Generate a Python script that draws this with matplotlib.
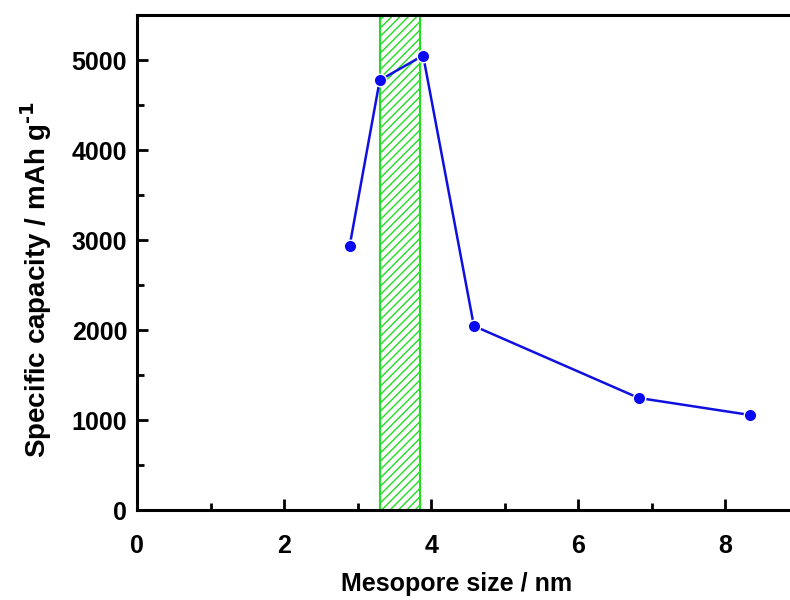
import matplotlib

matplotlib.use("Agg")
import matplotlib.pyplot as plt
from matplotlib.ticker import MultipleLocator
from matplotlib.patches import Rectangle

# data
pore_size = [2.89, 3.30, 3.89, 4.58, 6.82, 8.34]
capacity = [2930, 4775, 5050, 2045, 1245, 1055]
band_x = [3.30, 3.85]

plt.rcParams["font.family"] = ["Liberation Sans", "DejaVu Sans"]
plt.rcParams["font.weight"] = "bold"
plt.rcParams["hatch.color"] = "#22dd22"

fig = plt.figure(figsize=(7.9, 6.0), dpi=100)
# right spine sits past the image edge, like the cropped original
ax = fig.add_axes([137 / 790, 90 / 600, 662 / 790, 495 / 600])

ax.add_patch(
    Rectangle(
        (band_x[0], 0), band_x[1] - band_x[0], 5500,
        facecolor="none", edgecolor="#22dd22", hatch="////", linewidth=1.5, zorder=1,
    )
)

ax.plot(pore_size, capacity, color="#1010e0", linewidth=1.8, marker="o",
        markersize=9, markerfacecolor="#0a0af0", markeredgecolor="white",
        markeredgewidth=1.0, zorder=3)

ax.set_xlim(0, 9)
ax.set_ylim(0, 5500)
ax.xaxis.set_major_locator(MultipleLocator(2))
ax.xaxis.set_minor_locator(MultipleLocator(1))
ax.yaxis.set_major_locator(MultipleLocator(1000))
ax.yaxis.set_minor_locator(MultipleLocator(500))
ax.tick_params(which="both", direction="in", width=2, labelsize=18, top=False, right=False)
ax.tick_params(which="major", length=8)
ax.tick_params(which="minor", length=5)
ax.tick_params(axis="x", which="major", pad=17)
ax.tick_params(axis="y", which="major", pad=7)
for lab in ax.get_xticklabels() + ax.get_yticklabels():
    lab.set_fontweight("bold")
for sp in ax.spines.values():
    sp.set_linewidth(2.2)

ax.set_xlabel("Mesopore size / nm", fontsize=18, fontweight="bold")
ax.set_ylabel(r"Specific capacity / mAh g$^{\text{-1}}$", fontsize=20, fontweight="bold")
ax.xaxis.set_label_coords(0.483, -0.125)
ax.yaxis.set_label_coords(-0.125, 0.465)

fig.savefig("out.png", dpi=100)
